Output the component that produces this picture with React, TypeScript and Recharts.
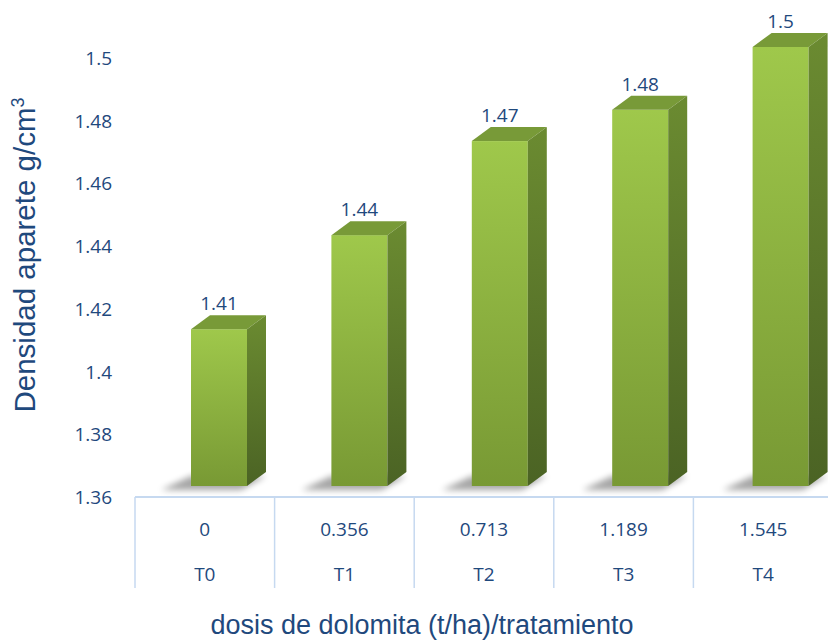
import React from "react"
import { BarChart, Bar, XAxis, YAxis, LabelList } from "recharts"

const tratamientos = ["T0", "T1", "T2", "T3", "T4"]
const dosis = ["0", "0.356", "0.713", "1.189", "1.545"]
const densidad = [1.41, 1.44, 1.47, 1.48, 1.5]
const yTicks = [1.36, 1.38, 1.4, 1.42, 1.44, 1.46, 1.48, 1.5]

const data = tratamientos.map((t, i) => ({ trat: t, dosis: dosis[i], value: densidad[i] }))

const W = 833
const H = 643
const M = { top: 58, right: 0, left: 0, bottom: 53 }
const Y_AXIS_W = 135
const X_AXIS_H = 93
const BAND = (W - M.left - M.right - Y_AXIS_W) / tratamientos.length
const TEXT = "#1f497d"
const GRID = "#c6d9f0"
const FONT = "'Open Sans', sans-serif"

// fake 3D: front face sits a bit lower than the scale, box depth goes up-right
const DROP = 11
const DX = 19
const DY = 14
const shiftX = (i: number) => 14 + i * 0.8

function Box3D(props: any) {
  const { x, y, width, height, index } = props
  const fx = x + shiftX(index)
  const top = y - DROP
  const bottom = y + height - DROP
  return (
    <g>
      <polygon
        points={`${fx - 30},${bottom + 4} ${fx + width - 6},${bottom + 4} ${fx + width + DX},${bottom - DY + 4} ${fx},${bottom - DY + 4}`}
        fill="#000"
        opacity={0.35}
        filter="url(#shadowBlur)"
      />
      <rect x={fx} y={top} width={width} height={bottom - top} fill="url(#frontGrad)" />
      <polygon
        points={`${fx},${top} ${fx + DX},${top - DY} ${fx + width + DX},${top - DY} ${fx + width},${top}`}
        fill="#789a38"
      />
      <polygon
        points={`${fx + width},${top} ${fx + width + DX},${top - DY} ${fx + width + DX},${bottom - DY} ${fx + width},${bottom}`}
        fill="url(#sideGrad)"
      />
    </g>
  )
}

function BarValue(props: any) {
  const { x, y, width, value, index } = props
  return (
    <text
      x={x + width / 2 + shiftX(index)}
      y={y - 37}
      textAnchor="middle"
      dominantBaseline="central"
      fill={TEXT}
      fontSize={19}
      fontFamily={FONT}
    >
      {value}
    </text>
  )
}

function TableTick(props: any) {
  const { x, y, payload, index } = props
  const axisY = y - 2
  const left = x - BAND / 2
  return (
    <g>
      <line x1={left} y1={axisY} x2={left} y2={axisY + 91} stroke={GRID} strokeWidth={1.5} />
      {index === tratamientos.length - 1 && (
        <line x1={left + BAND} y1={axisY} x2={left + BAND} y2={axisY + 91} stroke={GRID} strokeWidth={1.5} />
      )}
      <text x={x} y={axisY + 32} textAnchor="middle" dominantBaseline="central" fill={TEXT} fontSize={19} fontFamily={FONT}>
        {dosis[index]}
      </text>
      <text x={x} y={axisY + 77} textAnchor="middle" dominantBaseline="central" fill={TEXT} fontSize={19} fontFamily={FONT}>
        {payload.value}
      </text>
    </g>
  )
}

function YTick(props: any) {
  const { x, y, payload } = props
  return (
    <text x={x} y={y} textAnchor="end" dominantBaseline="central" fill={TEXT} fontSize={19} fontFamily={FONT}>
      {payload.value}
    </text>
  )
}

export default function App() {
  return (
    <div style={{ position: "absolute", left: 0, top: 0, width: 828, height: H, overflow: "hidden", background: "#fff" }}>
      <BarChart width={W} height={H} data={data} margin={M} barSize={56}>
        <defs>
          <linearGradient id="frontGrad" x1="0" y1="0" x2="0" y2="1">
            <stop offset="0%" stopColor="#9fc84b" />
            <stop offset="100%" stopColor="#789934" />
          </linearGradient>
          <linearGradient id="sideGrad" x1="0" y1="0" x2="0" y2="1">
            <stop offset="0%" stopColor="#6b8b31" />
            <stop offset="100%" stopColor="#4b6324" />
          </linearGradient>
          <filter id="shadowBlur" x="-50%" y="-100%" width="200%" height="300%">
            <feGaussianBlur stdDeviation="3" />
          </filter>
        </defs>
        <XAxis
          dataKey="trat"
          height={X_AXIS_H}
          axisLine={{ stroke: GRID, strokeWidth: 2 }}
          tickLine={false}
          tickSize={0}
          tickMargin={2}
          interval={0}
          tick={<TableTick />}
        />
        <YAxis
          width={Y_AXIS_W}
          domain={[1.36, 1.5]}
          ticks={yTicks}
          axisLine={false}
          tickLine={false}
          tickSize={0}
          tickMargin={23}
          tick={<YTick />}
        />
        <Bar dataKey="value" shape={<Box3D />} isAnimationActive={false}>
          <LabelList dataKey="value" content={<BarValue />} />
        </Bar>
      </BarChart>
      <div
        style={{
          position: "absolute",
          left: 25,
          top: 255,
          transform: "translate(-50%, -50%) rotate(-90deg)",
          whiteSpace: "nowrap",
          color: TEXT,
          fontSize: 29.5,
          fontFamily: "'Liberation Sans', Arial, sans-serif",
        }}
      >
        Densidad aparete g/cm<sup style={{ fontSize: 18 }}>3</sup>
      </div>
      <div
        style={{
          position: "absolute",
          left: 422,
          top: 625,
          transform: "translate(-50%, -50%)",
          whiteSpace: "nowrap",
          color: TEXT,
          fontSize: 27,
          fontFamily: "'Liberation Sans', Arial, sans-serif",
        }}
      >
        dosis de dolomita (t/ha)/tratamiento
      </div>
    </div>
  )
}
